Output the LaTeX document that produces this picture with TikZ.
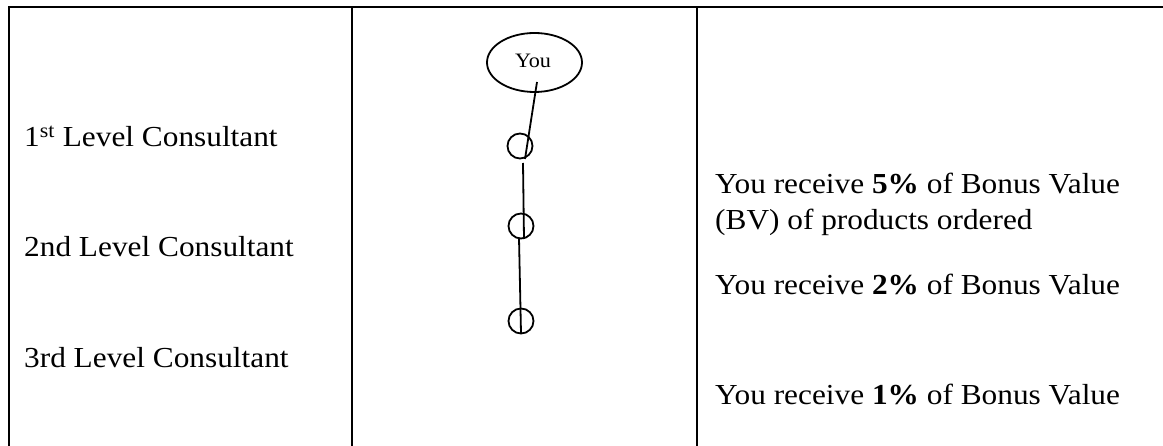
\documentclass[tikz,border=0pt]{standalone}
\usepackage{fontspec}
\setmainfont[FakeStretch=1.08]{Liberation Serif}
\usetikzlibrary{shapes.geometric}
\begin{document}
\begin{tikzpicture}[x=1pt,y=-1pt,
  rule/.style={line width=2.2pt},
  conn/.style={line width=1.8pt},
  lbl/.style={anchor=base west,inner sep=0pt,font=\fontsize{29}{36}\selectfont,align=left},
  member/.style={circle,draw,line width=1.8pt,minimum size=25pt,inner sep=0pt},
  root/.style={ellipse,draw,line width=1.8pt,minimum width=95pt,minimum height=59pt,inner sep=0pt}]
\useasboundingbox (0,0) rectangle (1163,446);
% table rules
\coordinate (tl) at (9,7);
\coordinate (tr) at (1163,7);
\coordinate (bl) at (9,446);
\coordinate (d1t) at (352,7);
\coordinate (d1b) at (352,446);
\coordinate (d2t) at (697,7);
\coordinate (d2b) at (697,446);
\draw[rule] (bl) -- (tl) -- (tr);
\draw[rule] (d1t) -- (d1b);
\draw[rule] (d2t) -- (d2b);
% left column
\node[lbl] (l1) at (24,147) {1\textsuperscript{st} Level Consultant};
\node[lbl] (l2) at (24,257) {2nd Level Consultant};
\node[lbl] (l3) at (24,368) {3rd Level Consultant};
% middle column
\node[root] (you) at (534.5,62.5) {};
\node[anchor=base,inner sep=0pt,font=\fontsize{20.5}{24}\selectfont] (youtxt) at (533,68) {You};
\node[member] (c1) at (520,146) {};
\node[member] (c2) at (521,226) {};
\node[member] (c3) at (521,321) {};
\coordinate (a1) at (537,82);
\coordinate (a2) at (525,159);
\coordinate (b1) at (523,163);
\coordinate (b2) at (524,239);
\coordinate (e1) at (519,238);
\coordinate (e2) at (521,333);
\draw[conn] (a1) -- (a2);
\draw[conn] (b1) -- (b2);
\draw[conn] (e1) -- (e2);
% right column
\node[lbl] (r1) at (715,230) {You receive \textbf{5\%} of Bonus Value\\(BV) of products ordered};
\node[lbl] (r2) at (715,295) {You receive \textbf{2\%} of Bonus Value};
\node[lbl] (r3) at (715,405) {You receive \textbf{1\%} of Bonus Value};
\end{tikzpicture}
\end{document}
